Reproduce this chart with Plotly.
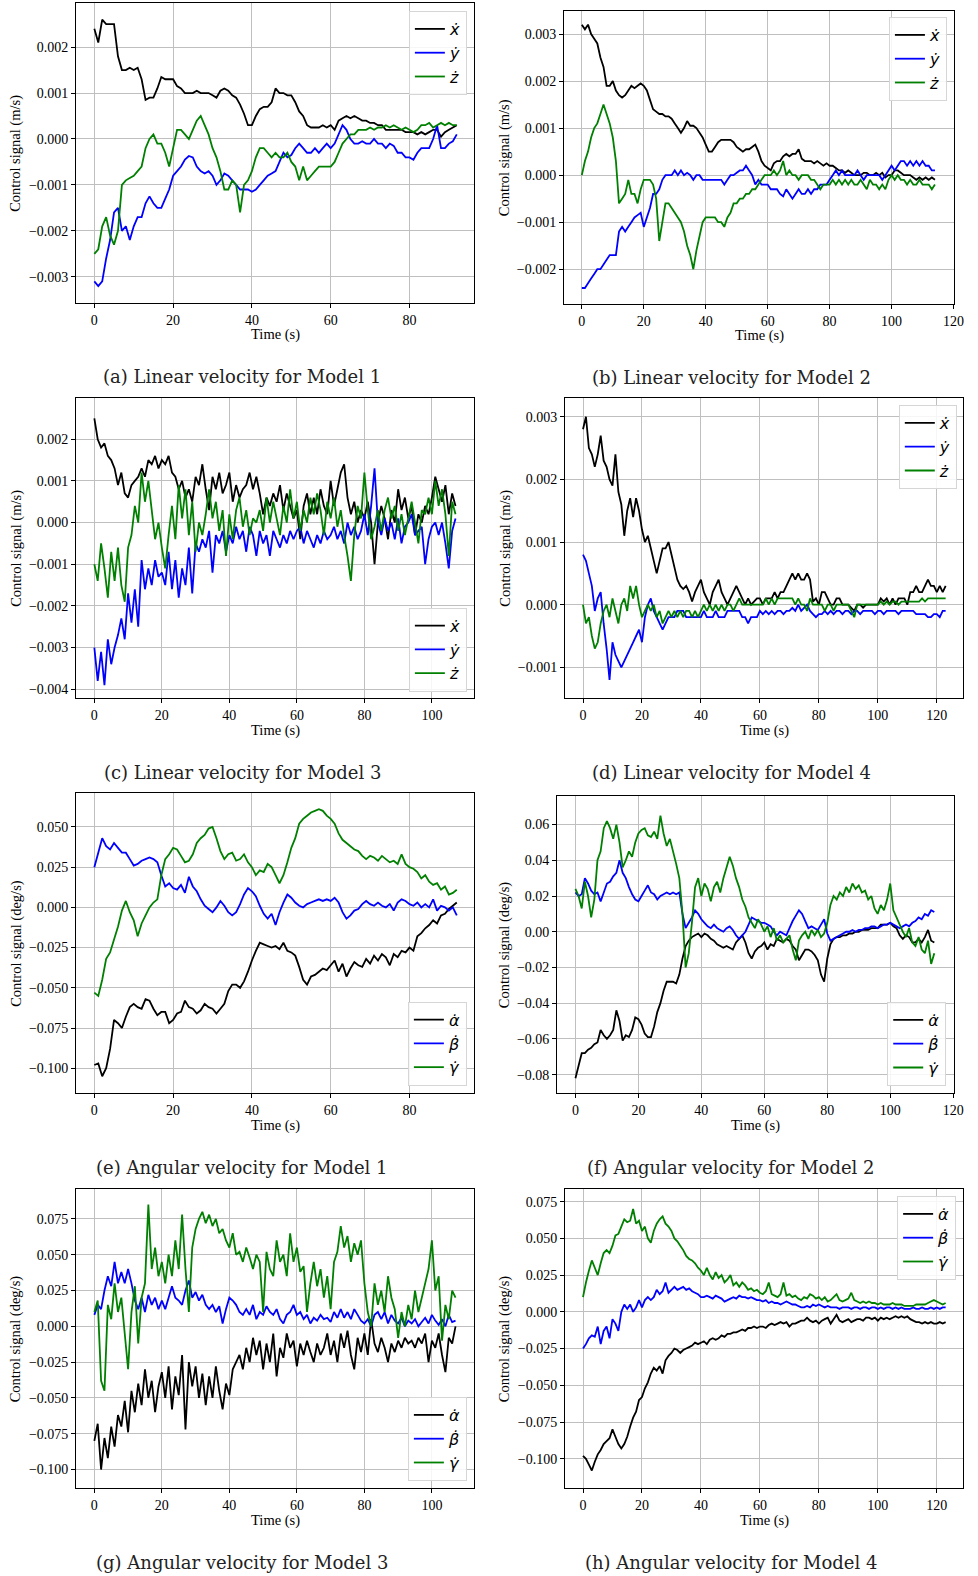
import plotly.graph_objects as go

FIG_W, FIG_H = 978, 1576
SERIF = "Liberation Serif, Times New Roman, serif"
CAPTION_FONT = "DejaVu Serif, serif"
MATH_FONT = "DejaVu Sans, sans-serif"
COLORS = ["#000000", "#0000ff", "#008000"]

LIN_SCALE = 1e-4   # linear-velocity samples are stored in units of 1e-4 m/s
ANG_SCALE = 1e-3   # angular-velocity samples are stored in units of 1e-3 deg/s
DT = 1.0           # sample spacing of the stored signals (s)

# ---------------- Linear velocity, Model 1 ----------------
m1_lin_x = [24, 21, 26, 25, 25, 25, 18, 15, 15, 15.5,
            15, 15.5, 13, 8.5, 9, 9, 11, 13.5, 13, 13,
            13, 11.5, 11, 10, 10, 10, 10.5, 10, 10, 10,
            9.5, 9, 10.5, 11, 10.5, 9.5, 9, 7.5, 5.5, 3,
            3, 5, 6.5, 7, 7, 8, 11, 10, 10, 9.5,
            9.5, 8, 6, 5, 3, 2.5, 2.5, 2.5, 3, 2.5,
            3, 2, 4, 4.5, 5, 4.5, 5, 4.5, 4, 4,
            3.5, 3.5, 3, 3, 2, 2, 2, 2, 2, 1.5,
            1.5, 1.5, 1, 1.5, 1, 1.5, 2, 2, 0.5, 1.5,
            2, 2.5, 3]
m1_lin_y = [-31, -32, -31, -26, -22, -16, -15, -20, -19, -22,
            -19, -17, -17, -14, -12.5, -14, -15, -15, -13, -11,
            -8, -7, -6, -4.5, -3.7, -4, -6, -7, -7.5, -7,
            -8, -10, -9, -7.5, -8, -9, -10, -11, -11, -11,
            -11.5, -11, -10, -9, -8, -7.5, -7, -5, -3, -4,
            -3.5, -2, -1, -2, -3, -3, -2, -3, -2, -1,
            -2, -1, 1, 3, 2, 0, -1, -1, -0.5, -1,
            -1, 0, -1, -1, -2, -1, -1.5, -3, -3, -4,
            -4, -4.5, -3, -2, -2, -2, 0, 3, -2, -2,
            -1, -0.5, 1]
m1_lin_z = [-25, -24, -19, -17, -21, -23, -20, -10, -9, -8.5,
            -8, -7, -6, -2, 0, 1, -1, -1, -3, -6,
            -2, 2, 2, 1, 0, 2, 4, 5, 3, 1,
            -2, -4, -7, -11, -11, -9, -10, -16, -10, -9,
            -7, -4, -2, -2, -3, -4, -3, -4, -4, -3,
            -5, -6, -9, -6, -9, -8, -7, -6, -6, -6,
            -6, -5, -3, -1, 0, 1, 1, 2, 2, 2,
            2.5, 2, 2.5, 2.5, 3, 2.5, 3, 2.5, 2, 2.5,
            2, 1.5, 2, 3, 3, 3.5, 2.5, 3, 3.5, 3,
            3.5, 3, 3]

# ---------------- Linear velocity, Model 2 ----------------
m2_lin_x = [32, 31, 32, 30, 29, 28, 25, 23, 19, 19,
            20, 18, 17, 16.5, 17, 18, 19, 18.5, 19, 19.5,
            19, 18, 16, 14, 13.5, 13, 13, 12.5, 12.5, 12,
            11, 10, 9, 10, 11.5, 10.5, 10.5, 10, 9, 8,
            6.5, 5, 5, 6, 7, 7.5, 7.5, 7.5, 7.5, 7,
            6, 5.5, 5, 5.5, 5.5, 6, 6.5, 5, 3, 2,
            1.5, 1, 2.5, 3, 3, 4, 4.5, 4, 4.5, 4.5,
            5.5, 3.5, 3, 3, 3, 2.5, 3, 2.5, 2, 2.5,
            2, 2, 1.5, 1, 1, 0.5, 1, 0.5, 0, 0,
            0, 0.5, 0.5, 0, 0, 0.5, 0, 0.5, -0.5, 0,
            0, 1, 1, 0.5, 0, 0, 0, -0.5, -1, -0.5,
            -1, -0.5, -1, -0.5, -1]
m2_lin_y = [-24, -24, -23, -22, -21, -20, -20, -19, -18, -17,
            -17, -17, -12, -11, -12, -11, -10, -9, -8.5, -8,
            -11, -9, -7, -4, -4, -3, -1, 0, 0, 0,
            1, 0, 1, 0, 0.5, 0, -1, 0, 0, -1,
            -1, -1, -1, -1, -1, -1, -2, -1, 0, 0,
            0.5, 1, 1, 2, 1, 0, -2, -1, -2, -2,
            -2, -3, -3, -3, -4, -4.5, -3, -4, -5, -4,
            -3, -4, -4, -3, -4, -3, -3, -2, -2, -2,
            -1, 0, 1, 0, 1, 0, 0, 0, 0, 1,
            0, -1, 0, 0, 0, 0, 0, -1, 0, 1,
            2, 1, 2, 3, 3, 2, 3, 2, 3, 2,
            3, 2, 2, 1, 1]
m2_lin_z = [0, 3, 5, 8, 10, 11, 13, 15, 13, 11,
            8, 3, -6, -5, -4, -1, -4, -4, -6, -3,
            -1, -1, -1, -2, -5, -14, -10, -6, -6, -7,
            -8, -9, -10, -12, -15, -17, -20, -16, -13, -10,
            -9, -9, -9, -9, -10, -10, -11, -9, -8, -6,
            -6, -5, -5, -4, -4, -3, -3, -2, -1, 0,
            0, 0, 1, 0, 1, 3, 0, 1, 0, 0,
            -1, 0, 0, 0, -1, -1, -2, -3, -2, -2,
            -2, -1, -2, -1, -2, -1, -2, -1, -2, -2,
            -1, -2, -3, -1, -2, -2, -3, -2, -3, -1,
            0, -1, 0, -1, -1, -2, -1, -2, -2, -1,
            -2, -2, -2, -3, -2]

# ---------------- Linear velocity, Model 3 ----------------
m3_lin_x = [25, 20, 18, 19, 16, 15, 13, 9, 12, 7,
            6, 9, 10, 11, 13, 11, 15, 14, 16, 13,
            15, 14, 16, 12, 11, 8, 10, 6, 8, 5,
            11, 9, 14, 8, 3, 11, 8, 12, 7, 9,
            12, 5, 9, 6, 8, 9, 12, 8, 11, 7,
            2, 6, 4, 7, 5, 9, 3, 7, 4, 1,
            3, -4, 4, 7, 2, 6, 2, 8, 4, 2,
            10, 4, 8, 12, 14, 6, 2, 5, 0, 3,
            1, 5, 0, -10, 0, 4, 1, -4, 3, 0,
            8, 3, 6, 1, 4, -3, 2, 0, 4, 2,
            6, 11, 8, 5, 9, 2, 7, 4]
m3_lin_y = [-30, -38, -31, -39, -28, -34, -30, -27, -23, -28,
            -17, -24, -16, -25, -9, -16, -11, -15, -9, -13,
            -12, -15, -7, -16, -9, -18, -11, -15, -6, -17,
            -5, -7, -4, -6, -2, -12, -3, -5, -2, -7,
            -3, -5, -1, -4, -2, -7, -1, -3, -8, -2,
            -5, -3, -8, -2, -4, -6, -3, -5, -2, -4,
            -2, -1, -5, -2, -4, -6, -3, -5, -2, -4,
            -3, -1, -4, -2, -5, 0, -3, -1, -4, -2,
            2, -3, 4, 13, 0, -3, 1, -2, 0, -4,
            1, -5, -1, 0, 2, -3, -2, -1, -10, -4,
            -1, 0, -3, 0, -5, -11, -2, 1]
m3_lin_z = [-10, -14, -5, -11, -18, -7, -14, -6, -15, -19,
            -6, -3, 4, 0, 12, 5, 10, 3, -4, 0,
            -6, -11, -3, 4, -4, 9, 1, 8, -3, 5,
            -7, 0, -3, 2, 8, 1, 5, -2, 3, -8,
            2, -4, 3, 6, -1, 3, -3, 1, 0, 3,
            -2, 6, 0, 5, 1, -3, 4, 0, 8, 1,
            5, -2, 3, 0, 6, 2, 7, 3, -3, 5,
            1, 6, -1, 3, -3, -8, -14, -3, 4, 1,
            12, 3, -4, -1, 3, -2, 3, 6, 1, 4,
            -2, 2, -3, 1, 5, 0, -5, 3, 2, 6,
            2, 10, 4, 8, 2, -8, 5, 2]

# ---------------- Linear velocity, Model 4 ----------------
m4_lin_x = [28, 30, 25, 24, 22, 24, 27, 23, 22, 20,
            19, 24, 18, 16, 11, 15, 17, 14, 17, 15,
            12, 10, 11, 9, 7, 5, 7, 9, 9, 10,
            8, 6, 4, 3, 2.5, 3, 2, 0.5, 2, 3,
            4, 2, 1, 0, 2, 3, 4, 2, 1, 0,
            1, 2, 3, 2, 1, 0, 1, 0, 0.5, 1,
            1, 0, 1, 1, 1, 2, 1, 2, 2, 3,
            4, 5, 4, 5, 4, 4, 5, 4, 0.5, 1,
            0, 2, 2, 1, 0, 0, 1, 1, 0, 0,
            0, -0.5, -1, 0, 0, -0.5, 0, 0, 0, 0,
            0, 1, 0.5, 1, 0, 1, 0, 1, 1, 1,
            0, 2, 2, 3, 2, 2, 3, 4, 3, 3,
            2, 3, 2, 3]
m4_lin_y = [8, 7, 5, 3, -1, 1, 2, -3, -7, -12,
            -6, -8, -9, -10, -9, -8, -7, -6, -5, -4,
            -6, -2, 0, 1, -1, -2, -3, -4, -3, -2,
            -2, -2, -1, -1, -1, -2, -2, -2, -2, -2,
            -2, -1, -2, -2, -2, -1, -2, -2, -2, -1,
            -1, -1, -1, -1, -2, -2, -3, -2, -2, -2,
            -1, -1.5, -1, -1.5, -1, -1.5, -1, -1, -1.5, -1,
            -1, -0.5, -1, 0, -1, -0.5, 0, -1, -1.5, -2,
            -1.5, -1.5, -1, -1.5, -1, -1.5, -1, -1, -1.5, -1,
            -1, -1.5, -1, -1, -1.5, -1, -1, -1, -1, -1.5,
            -1, -1, -1.5, -1, -1, -1, -1, -1.5, -1, -1,
            -1, -1, -1, -1.5, -1.5, -1.5, -1.5, -2, -2, -1.5,
            -1.5, -2, -1, -1]
m4_lin_z = [0, -3, -2, -5, -7, -6, -3, -1, 0, -2,
            1, -1, -3, 0, 1, -1, 3, 1, 3, 0,
            -2, -1, 0, -1, 0, -2, -1, -3, -2, -1,
            -2, -1, -2, -1, -2, -1, -1, -2, -1, -2,
            -1, 0, -1, 0, -1, 0, -1, 0, -1, 0,
            0, -1, 0, 1, 0, 0, 0, 0, 0, 0,
            0, 0, 1, 0, 1, 0, 1, 1, 1, 1,
            1, 1, 0, 1, 0, 0, -1, 1, 0, 0,
            0, 0, -1, 0, 0, -1, 0, 0, 0, 0,
            0, -1, -2, 0, 0, 0, 0, 0, 0, 0,
            0, 0.5, 0, 0.5, 0, 0.5, 0.5, 0, 0.5, 0.5,
            0.5, 0.5, 0.5, 0.5, 0.5, 1, 0.5, 1, 1, 1,
            1, 1, 1, 1]

# ---------------- Angular velocity, Model 1 ----------------
m1_ang_a = [-98, -97, -105, -100, -88, -70, -72, -75, -68, -62,
            -60, -62, -63, -57, -58, -63, -67, -65, -65, -72,
            -70, -66, -65, -58, -62, -63, -66, -64, -60, -62,
            -63, -66, -63, -60, -52, -48, -48, -50, -46, -40,
            -33, -27, -22, -23, -24, -25, -24, -26, -22, -27,
            -28, -30, -37, -45, -48, -43, -42, -40, -38, -39,
            -36, -33, -40, -35, -43, -38, -34, -36, -37, -32,
            -35, -30, -33, -29, -31, -36, -29, -31, -27, -28,
            -25, -27, -18, -16, -13, -11, -8, -10, -5, -4,
            -1, 1, 3]
m1_ang_b = [25, 34, 43, 38, 36, 40, 37, 34, 34, 30,
            26, 27, 29, 30, 31, 30, 28, 20, 13, 15,
            12, 11, 14, 9, 19, 13, 10, 5, 1, -1,
            -3, 0, 4, 1, -3, -5, -3, 2, 8, 12,
            10, 7, 1, -4, -7, -4, -11, -3, 3, 8,
            6, 3, 1, 0, 2, 3, 4, 5, 4, 5,
            4, 6, 3, -3, -7, -5, -2, -1, 2, 4,
            2, 1, 3, 1, 0, 2, -2, 3, 5, 4,
            2, 1, 3, 0, 2, 0, 5, -2, 1, 0,
            -2, 0, -5]
m1_ang_g = [-53, -55, -45, -32, -28, -20, -12, -2, 4, -3,
            -8, -18, -10, -5, 0, 3, 5, 20, 30, 33,
            37, 36, 32, 28, 29, 33, 40, 43, 45, 49,
            50, 43, 35, 30, 33, 34, 29, 30, 33, 28,
            25, 20, 23, 22, 27, 25, 20, 15, 20, 28,
            37, 43, 52, 55, 57, 59, 60, 61, 60, 57,
            55, 52, 46, 42, 40, 38, 36, 35, 32, 30,
            32, 31, 29, 32, 30, 28, 29, 27, 33, 27,
            25, 24, 22, 18, 20, 16, 14, 15, 11, 13,
            8, 9, 11]

# ---------------- Angular velocity, Model 2 ----------------
m2_ang_a = [-82, -75, -68, -68, -66, -65, -63, -62, -55, -58,
            -60, -58, -55, -44, -50, -61, -58, -59, -55, -48,
            -49, -52, -57, -59, -59, -53, -45, -40, -33, -28,
            -28, -28, -29, -24, -15, -8, -5, -3, -2, -1,
            -3, -1, -2, -4, -5, -7, -8, -9, -8, -9,
            -10, -6, -4, -2, -6, -12, -15, -11, -9, -8,
            -6, -10, -7, -8, -4, -5, -6, -4, -5, -8,
            -10, -16, -13, -10, -10, -11, -13, -16, -24, -28,
            -15, -7, -4, -3, -3, -2, -2, -1, -1, 0,
            0, 1, 1, 1, 2, 2, 2, 4, 4, 4,
            5, 3, 2, -2, -4, -2, -3, -6, -6, -4,
            -6, -3, 1, -5, -6]
m2_ang_b = [22, 20, 21, 30, 27, 23, 21, 22, 17, 22,
            27, 28, 31, 33, 40, 33, 30, 25, 21, 18,
            17, 20, 23, 26, 22, 21, 18, 20, 21, 22,
            21, 22, 21, 22, 10, 2, 5, 8, 12, 10,
            7, 5, 3, 2, 4, 2, 1, 0, 2, 3,
            1, -2, -4, -2, 0, 4, 8, 7, 6, 5,
            5, 4, 3, 0, -2, 0, -1, -2, 2, 6,
            9, 12, 10, 6, 2, 3, 2, 1, 4, 7,
            -1, -5, -4, -3, -2, -1, 0, 0, 1, 0,
            1, 1, 2, 2, 3, 3, 2, 3, 4, 4,
            5, 4, 3, 2, 3, 4, 3, 5, 6, 8,
            7, 10, 9, 12, 11]
m2_ang_g = [24, 20, 13, 28, 20, 8, 18, 40, 45, 58,
            62, 58, 52, 60, 50, 36, 40, 45, 42, 50,
            55, 57, 58, 54, 53, 56, 52, 65, 55, 48,
            52, 45, 38, 30, 10, -20, -12, 5, 25, 30,
            20, 27, 24, 17, 25, 28, 22, 30, 36, 42,
            37, 30, 25, 18, 14, 8, 5, 2, 7, 4,
            0, 3, -3, 2, -5, -2, -6, -4, -2, -10,
            -16, -5, -2, 0, -4, 1, -2, 1, -3, -1,
            5, 15, 20, 18, 22, 20, 25, 22, 27, 24,
            26, 22, 23, 18, 20, 13, 10, 15, 12, 18,
            27, 12, 8, 4, 0, -3, 2, -6, -8, -3,
            -10, -12, -5, -18, -12]

# ---------------- Angular velocity, Model 3 ----------------
m3_ang_a = [-80, -68, -100, -78, -92, -70, -84, -62, -70, -52,
            -74, -45, -60, -40, -55, -30, -50, -38, -60, -42,
            -32, -50, -28, -58, -35, -48, -20, -72, -25, -42,
            -28, -50, -33, -55, -35, -50, -28, -45, -58, -40,
            -48, -30, -25, -20, -30, -15, -25, -8, -20, -10,
            -30, -12, -25, -5, -35, -15, -22, -5, -15, -10,
            -28, -12, -20, -10, -18, -25, -12, -20, -15, -5,
            -20, -10, -25, -5, -15, -3, -20, -30, -8, -18,
            -5, -20, 5, -12, -18, -8, -15, -25, -12, -18,
            -10, -15, -8, -12, -10, -15, -8, -12, -5, -25,
            -10, -15, -5, -20, -32, -8, -12, 0]
m3_ang_b = [8, 15, 12, 25, 35, 28, 45, 30, 38, 30,
            40, 30, 18, 12, 20, 10, 22, 15, 20, 12,
            18, 12, 20, 28, 20, 18, 15, 25, 32, 20,
            24, 18, 22, 15, 12, 15, 10, 14, 2, 12,
            20, 18, 15, 10, 8, 12, 8, 15, 5, 10,
            8, 14, 10, 8, 12, 5, 2, 8, 10, 15,
            8, 10, 5, 8, 2, 6, 4, 8, 5, 6,
            3, 10, 6, 12, 6, 10, 5, 12, 8, 4,
            2, 5, 0, 8, 10, 5, 10, 2, 8, 4,
            2, 6, 0, 4, 2, 5, 0, 3, 6, 2,
            8, 4, 1, 5, 0, 8, 3, 4]
m3_ang_g = [10, 18, -38, -45, 15, 5, 30, 10, 20, -5,
            -30, 10, 28, -12, 20, 30, 85, 40, 55, 35,
            45, 30, 50, 35, 60, 40, 78, 40, 10, 55,
            68, 75, 80, 72, 78, 70, 75, 65, 68, 60,
            55, 65, 50, 52, 45, 55, 48, 40, 50, 45,
            10, 52, 40, 35, 60, 45, 50, 35, 65, 45,
            55, 38, 42, 10, 30, 45, 28, 40, 20, 35,
            12, 45, 52, 70, 55, 63, 45, 58, 50, 60,
            30, 10, 0, 30, 15, 25, 10, 35, 20, 12,
            -8, 10, 0, 15, 5, 25, 10, 20, 30, 40,
            60, 25, 35, -10, 15, 5, 25, 20]

# ---------------- Angular velocity, Model 4 ----------------
m4_ang_a = [-98, -100, -104, -108, -102, -97, -94, -90, -88, -86,
            -80, -85, -90, -93, -90, -85, -78, -72, -68, -60,
            -58, -52, -48, -42, -38, -40, -37, -42, -33, -30,
            -28, -25, -26, -28, -26, -25, -24, -23, -21, -22,
            -21, -20, -22, -19, -18, -19, -18, -16, -17, -15,
            -15, -14, -14, -13, -12, -13, -11, -11, -10, -11,
            -10, -10, -11, -9, -8, -9, -8, -7, -8, -7,
            -10, -8, -8, -7, -6, -6, -4, -6, -7, -6,
            -8, -6, -5, -4, -8, -5, -2, -6, -7, -6,
            -5, -7, -6, -5, -5, -6, -4, -4, -5, -4,
            -6, -4, -5, -4, -5, -4, -3, -4, -3, -4,
            -3, -5, -6, -7, -7, -8, -7, -8, -7, -8,
            -8, -7, -8, -7]
m4_ang_b = [-25, -22, -18, -16, -17, -10, -22, -13, -10, -18,
            -5, -8, -13, 0, 5, 2, 5, 0, 3, 8,
            3, 8, 10, 8, 10, 15, 12, 14, 20, 13,
            15, 17, 15, 16, 17, 15, 16, 14, 13, 12,
            10, 10, 11, 10, 9, 11, 10, 9, 7, 8,
            9, 10, 9, 11, 10, 10, 9, 10, 9, 8,
            8, 7, 8, 6, 7, 6, 6, 5, 6, 7,
            6, 5, 5, 4, 3, 3, 4, 3, 5, 4,
            5, 4, 3, 4, 3, 3, 3, 2, 3, 3,
            3, 2, 3, 3, 2, 3, 3, 2, 3, 3,
            2, 3, 2, 3, 3, 2, 3, 2, 3, 2,
            2, 2, 3, 2, 2, 3, 2, 2, 3, 2,
            3, 2, 3, 3]
m4_ang_g = [10, 20, 28, 35, 30, 25, 33, 40, 42, 40,
            45, 52, 53, 58, 63, 61, 62, 70, 60, 62,
            55, 58, 50, 47, 55, 60, 63, 65, 60, 58,
            55, 50, 48, 45, 42, 38, 36, 35, 33, 30,
            28, 25, 30, 25, 22, 27, 23, 25, 20, 22,
            25, 18, 20, 17, 20, 18, 15, 16, 14, 15,
            13, 12, 14, 20, 12, 11, 10, 12, 20, 11,
            12, 10, 11, 9, 8, 10, 9, 12, 11, 9,
            10, 8, 10, 7, 8, 10, 12, 8, 7, 8,
            9, 13, 8, 7, 6, 7, 6, 7, 6, 6,
            5, 6, 5, 5, 5, 6, 5, 5, 5, 4,
            4, 4, 4, 5, 5, 5, 5, 6, 7, 8,
            7, 6, 5, 6]

LIN_NAMES = ["<i>ẋ</i>", "<i>ẏ</i>", "<i>ż</i>"]
ANG_NAMES = ["<i>α̇</i>", "<i>β̇</i>", "<i>γ̇</i>"]

LIN_YLABEL = "Control signal (m/s)"
ANG_YLABEL = "Control signal (deg/s)"

# Panel layout: plot box in pixels (left, right, top, bottom), axis ranges,
# ticks, legend corner, caption.
panels = [
    dict(series=[m1_lin_x, m1_lin_y, m1_lin_z], scale=LIN_SCALE, names=LIN_NAMES,
         box=(77, 479, 3, 303), xr=(-4.6, 96.4), yr=(-0.00357, 0.00296),
         xt=[0, 20, 40, 60, 80], yt=[-0.003, -0.002, -0.001, 0, 0.001, 0.002], dec=3,
         ylabel=LIN_YLABEL, leg=(471.7, 11, "top"),
         caption="(a) Linear velocity for Model 1"),
    dict(series=[m2_lin_x, m2_lin_y, m2_lin_z], scale=LIN_SCALE, names=LIN_NAMES,
         box=(570, 964, 11, 304), xr=(-5.7, 120.2), yr=(-0.00274, 0.00349),
         xt=[0, 20, 40, 60, 80, 100, 120], yt=[-0.002, -0.001, 0, 0.001, 0.002, 0.003], dec=3,
         ylabel=LIN_YLABEL, leg=(956.7, 17, "top"),
         caption="(b) Linear velocity for Model 2"),
    dict(series=[m3_lin_x, m3_lin_y, m3_lin_z], scale=LIN_SCALE, names=LIN_NAMES,
         box=(77, 479, 398, 698), xr=(-5.37, 112.5), yr=(-0.00421, 0.00299),
         xt=[0, 20, 40, 60, 80, 100], yt=[-0.004, -0.003, -0.002, -0.001, 0, 0.001, 0.002], dec=3,
         ylabel=LIN_YLABEL, leg=(471.7, 691.7, "bottom"),
         caption="(c) Linear velocity for Model 3"),
    dict(series=[m4_lin_x, m4_lin_y, m4_lin_z], scale=LIN_SCALE, names=LIN_NAMES,
         box=(571, 973, 398, 698), xr=(-6.05, 128.9), yr=(-0.00149, 0.00330),
         xt=[0, 20, 40, 60, 80, 100, 120], yt=[-0.001, 0, 0.001, 0.002, 0.003], dec=3,
         ylabel=LIN_YLABEL, leg=(966.7, 405, "top"),
         caption="(d) Linear velocity for Model 4"),
    dict(series=[m1_ang_a, m1_ang_b, m1_ang_g], scale=ANG_SCALE, names=ANG_NAMES,
         box=(77, 479, 793, 1093), xr=(-4.6, 96.4), yr=(-0.1154, 0.0711),
         xt=[0, 20, 40, 60, 80], yt=[-0.1, -0.075, -0.05, -0.025, 0, 0.025, 0.05], dec=3,
         ylabel=ANG_YLABEL, leg=(471.7, 1085.7, "bottom"),
         caption="(e) Angular velocity for Model 1"),
    dict(series=[m2_ang_a, m2_ang_b, m2_ang_g], scale=ANG_SCALE, names=ANG_NAMES,
         box=(563, 964, 796, 1093), xr=(-5.78, 120.3), yr=(-0.0903, 0.076),
         xt=[0, 20, 40, 60, 80, 100, 120], yt=[-0.08, -0.06, -0.04, -0.02, 0, 0.02, 0.04, 0.06], dec=2,
         ylabel=ANG_YLABEL, leg=(956, 1086, "bottom"),
         caption="(f) Angular velocity for Model 2"),
    dict(series=[m3_ang_a, m3_ang_b, m3_ang_g], scale=ANG_SCALE, names=ANG_NAMES,
         box=(77, 479, 1189, 1488), xr=(-5.37, 112.5), yr=(-0.1129, 0.0959),
         xt=[0, 20, 40, 60, 80, 100], yt=[-0.1, -0.075, -0.05, -0.025, 0, 0.025, 0.05, 0.075], dec=3,
         ylabel=ANG_YLABEL, leg=(471.7, 1481, "bottom"),
         caption="(g) Angular velocity for Model 3"),
    dict(series=[m4_ang_a, m4_ang_b, m4_ang_g], scale=ANG_SCALE, names=ANG_NAMES,
         box=(571, 973, 1189, 1488), xr=(-6.05, 128.9), yr=(-0.1199, 0.0836),
         xt=[0, 20, 40, 60, 80, 100, 120], yt=[-0.1, -0.075, -0.05, -0.025, 0, 0.025, 0.05, 0.075], dec=3,
         ylabel=ANG_YLABEL, leg=(966, 1196, "top"),
         caption="(h) Angular velocity for Model 4"),
]


def px_x(v):
    return v / FIG_W


def px_y(v):
    return 1 - v / FIG_H


def tick_label(v, dec):
    s = f"{v:.{dec}f}"
    if s.startswith("-"):
        s = "\u2212" + s[1:]
    return s


fig = go.Figure()
layout = dict(
    width=FIG_W, height=FIG_H,
    margin=dict(l=0, r=0, t=0, b=0),
    paper_bgcolor="white", plot_bgcolor="white",
    font=dict(family=SERIF, size=14, color="black"),
    annotations=[],
)

for i, p in enumerate(panels, start=1):
    left, right, top, bottom = p["box"]
    xa = "xaxis" if i == 1 else f"xaxis{i}"
    ya = "yaxis" if i == 1 else f"yaxis{i}"
    xref = "x" if i == 1 else f"x{i}"
    yref = "y" if i == 1 else f"y{i}"
    leg_key = "legend" if i == 1 else f"legend{i}"

    for vals, name, color in zip(p["series"], p["names"], COLORS):
        t = [k * DT for k in range(len(vals))]
        y = [v * p["scale"] for v in vals]
        fig.add_trace(go.Scatter(
            x=t, y=y, mode="lines", name=name,
            line=dict(color=color, width=1.8, simplify=False),
            xaxis=xref, yaxis=yref, legend=leg_key, showlegend=True,
        ))

    axis_common = dict(
        showline=True, linecolor="black", linewidth=1.2, mirror=True,
        ticks="outside", ticklen=4, tickwidth=1, tickcolor="black",
        showgrid=True, gridcolor="#bfbfbf", gridwidth=1.2,
        zeroline=False, tickfont=dict(family=SERIF, size=14, color="black"),
    )
    layout[xa] = dict(
        axis_common, domain=[px_x(left), px_x(right)], range=list(p["xr"]),
        anchor=yref, tickmode="array", tickvals=p["xt"],
        ticktext=[str(v) for v in p["xt"]],
    )
    layout[ya] = dict(
        axis_common, domain=[px_y(bottom), px_y(top)], range=list(p["yr"]),
        anchor=xref, tickmode="array", tickvals=p["yt"],
        ticktext=[tick_label(v, p["dec"]) for v in p["yt"]],
    )

    lx, ly, anchor = p["leg"]
    layout[leg_key] = dict(
        x=px_x(lx), y=px_y(ly), xanchor="right", yanchor=anchor,
        xref="paper", yref="paper",
        bgcolor="rgba(255,255,255,0.85)", bordercolor="#d6d6d6", borderwidth=1,
        font=dict(family=MATH_FONT, size=16, color="black"),
        itemwidth=30, tracegroupgap=0,
    )

    cx = (left + right) / 2
    # x-axis title
    layout["annotations"].append(dict(
        text="Time (s)", x=px_x(cx), y=px_y(bottom + 32), xref="paper", yref="paper",
        xanchor="center", yanchor="middle", showarrow=False,
        font=dict(family=SERIF, size=14.5, color="black"),
    ))
    # y-axis title
    ylab_x = 16 if left < 300 else 510
    layout["annotations"].append(dict(
        text=p["ylabel"], x=px_x(ylab_x), y=px_y((top + bottom) / 2),
        xref="paper", yref="paper", xanchor="center", yanchor="middle",
        textangle=-90, showarrow=False,
        font=dict(family=SERIF, size=14.5, color="black"),
    ))
    # sub-figure caption
    cap_cx = 244.5 if left < 300 else 739
    layout["annotations"].append(dict(
        text=p["caption"], x=px_x(cap_cx), y=px_y(bottom + 74),
        xref="paper", yref="paper", xanchor="center", yanchor="middle",
        showarrow=False,
        font=dict(family=CAPTION_FONT, size=18, color="#222222"),
    ))

fig.update_layout(**layout)
fig.write_html("out.html")
